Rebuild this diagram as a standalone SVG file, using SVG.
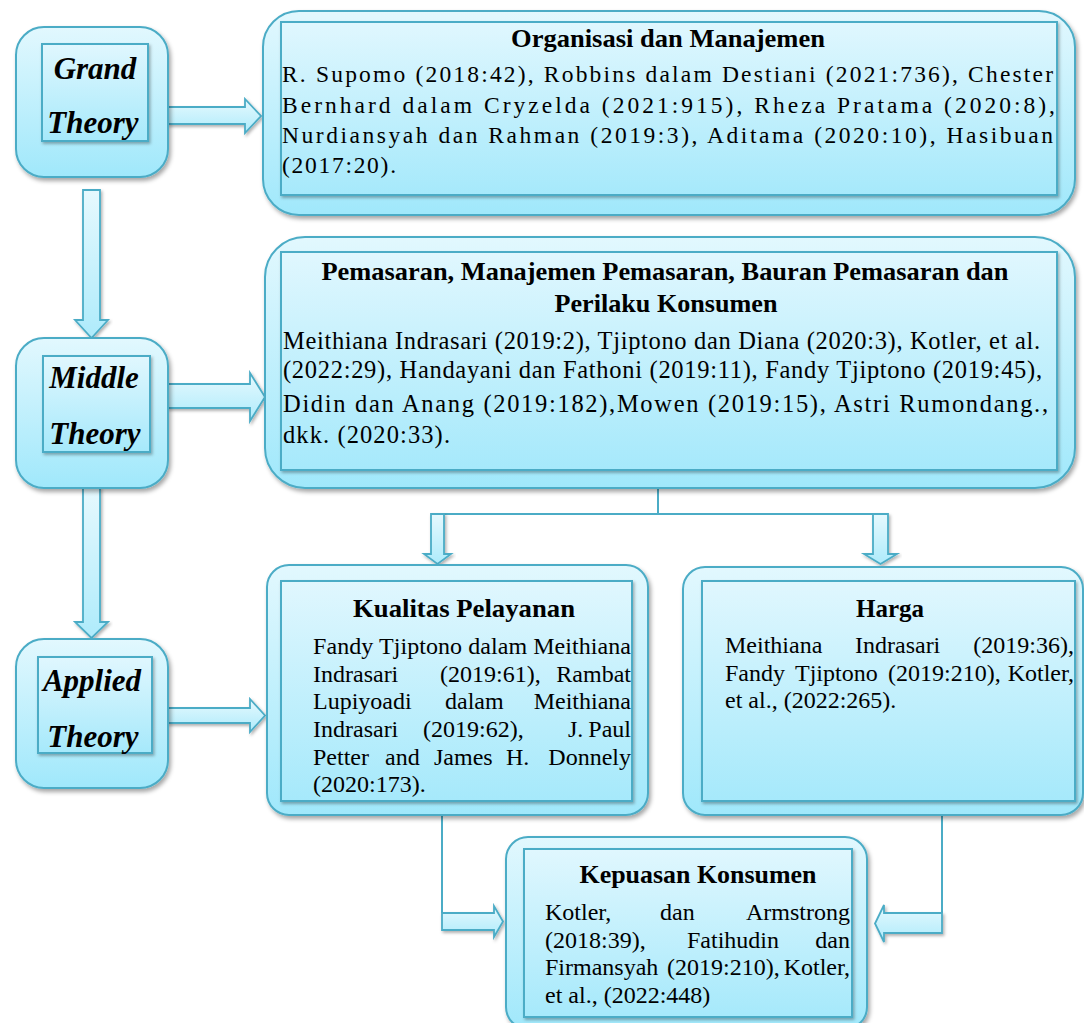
<svg xmlns="http://www.w3.org/2000/svg" width="1084" height="1023" viewBox="0 0 1084 1023">
<defs>
<linearGradient id="gOuter" x1="0" y1="0" x2="0" y2="1">
<stop offset="0" stop-color="#e2f8fe"/>
<stop offset="1" stop-color="#a0e8fb"/>
</linearGradient>
<linearGradient id="gInner" x1="0" y1="0" x2="0" y2="1">
<stop offset="0" stop-color="#e0f7fe"/>
<stop offset="1" stop-color="#a6e9fb"/>
</linearGradient>
<linearGradient id="gArrow" x1="0" y1="0" x2="0" y2="1">
<stop offset="0" stop-color="#e6f9fe"/>
<stop offset="1" stop-color="#aeebfb"/>
</linearGradient>
<filter id="sh" x="-10%" y="-10%" width="125%" height="130%">
<feDropShadow dx="2" dy="3" stdDeviation="2" flood-color="#000" flood-opacity="0.35"/>
</filter>
<filter id="sh2" x="-10%" y="-10%" width="125%" height="130%">
<feDropShadow dx="1.5" dy="2" stdDeviation="1.5" flood-color="#000" flood-opacity="0.3"/>
</filter>
</defs>
<style>
.outer{fill:url(#gOuter);stroke:#4bacc6;stroke-width:2;filter:url(#sh)}
.inner{fill:url(#gInner);stroke:#4bacc6;stroke-width:2;filter:url(#sh2)}
.arr{fill:url(#gArrow);stroke:#4bacc6;stroke-width:1.8;stroke-linejoin:miter;filter:url(#sh2)}
.line{fill:none;stroke:#4bacc6;stroke-width:2}
.lbl{font-family:"Liberation Serif","Times New Roman",serif;font-weight:bold;font-style:italic;font-size:31px;fill:#000;text-anchor:middle}
.ttl{font-family:"Liberation Serif","Times New Roman",serif;font-weight:bold;font-size:25px;fill:#000;text-anchor:middle}
.body{font-family:"Liberation Serif","Times New Roman",serif;font-size:23.5px;fill:#000}
.pb{font-family:"Liberation Serif","Times New Roman",serif;font-size:24.5px;fill:#000}
.b2{font-family:"Liberation Serif","Times New Roman",serif;font-size:24px;fill:#000}
.end{text-anchor:end}
</style>
<rect width="1084" height="1023" fill="#ffffff"/>

<g id="connectors">
<path class="arr" d="M168,107 H245 V99 L261,116 L245,133 V124 H168 Z"/>
<path class="arr" d="M168,384 H250 V373 L265,397 L250,421 V408 H168 Z"/>
<path class="arr" d="M168,708 H250 V699 L265,715.5 L250,732 V723 H168 Z"/>
<path class="arr" d="M83,190 H100 V320 H108 L91.5,338 L75,320 H83 Z"/>
<path class="arr" d="M83,488 H100 V622 H108 L91.5,638 L75,622 H83 Z"/>
<path class="line" d="M658,489 V514 M444,514 H873"/>
<path class="arr" d="M431,514 H444 V554 H451 L437.5,564 L424,554 H431 Z"/>
<path class="arr" d="M873,514 H888 V554 H897 L880.5,564 L864,554 H873 Z"/>
<path class="line" d="M442,816 V913"/>
<path class="arr" d="M442,913 H494 V906 L503,921.5 L494,937 V930 H442 Z"/>
<path class="line" d="M942,816 V913"/>
<path class="arr" d="M942,913 H884 V905 L875,923.5 L884,942 V933 H942 Z"/>
</g>

<g id="grand-theory">
<rect class="outer" x="16" y="27" width="152" height="150" rx="28"/>
<rect class="inner" x="42" y="44" width="106" height="97"/>
<text class="lbl" x="95" y="79">Grand</text>
<text class="lbl" x="93" y="133">Theory</text>
</g>

<g id="middle-theory">
<rect class="outer" x="16" y="338" width="152" height="150" rx="28"/>
<rect class="inner" x="43" y="356" width="107" height="96"/>
<text class="lbl" x="94" y="388">Middle</text>
<text class="lbl" x="95" y="444">Theory</text>
</g>

<g id="applied-theory">
<rect class="outer" x="16" y="639" width="152" height="149" rx="28"/>
<rect class="inner" x="38" y="657" width="114" height="96"/>
<text class="lbl" x="92" y="691">Applied</text>
<text class="lbl" x="93" y="747">Theory</text>
</g>

<g id="organisasi">
<rect class="outer" x="263" y="11" width="812" height="204" rx="36"/>
<rect class="inner" x="281" y="22" width="776" height="173"/>
<text class="ttl" x="668" y="47" textLength="314" lengthAdjust="spacingAndGlyphs">Organisasi dan Manajemen</text>
<text class="body" x="282" y="82" textLength="771" lengthAdjust="spacing">R. Supomo (2018:42), Robbins dalam Destiani (2021:736), Chester</text>
<text class="body" x="282" y="113" textLength="773" lengthAdjust="spacing">Bernhard dalam Cryzelda (2021:915), Rheza Pratama (2020:8),</text>
<text class="body" x="282" y="143" textLength="771" lengthAdjust="spacing">Nurdiansyah dan Rahman (2019:3), Aditama (2020:10), Hasibuan</text>
<text class="body" x="282" y="173" textLength="114" lengthAdjust="spacing">(2017:20).</text>
</g>

<g id="pemasaran">
<rect class="outer" x="265" y="237" width="810" height="251" rx="40"/>
<rect class="inner" x="281" y="252" width="776" height="218"/>
<text class="ttl" x="665" y="280" textLength="687" lengthAdjust="spacingAndGlyphs">Pemasaran, Manajemen Pemasaran, Bauran Pemasaran dan</text>
<text class="ttl" x="666" y="312" textLength="223" lengthAdjust="spacingAndGlyphs">Perilaku Konsumen</text>
<text class="pb" x="283" y="349" textLength="757" lengthAdjust="spacing">Meithiana Indrasari (2019:2), Tjiptono dan Diana (2020:3), Kotler, et al.</text>
<text class="pb" x="283" y="378" textLength="759" lengthAdjust="spacing">(2022:29), Handayani dan Fathoni (2019:11), Fandy Tjiptono (2019:45),</text>
<text class="pb" x="283" y="412" textLength="765" lengthAdjust="spacing">Didin dan Anang (2019:182),Mowen (2019:15), Astri Rumondang.,</text>
<text class="pb" x="283" y="443" textLength="167" lengthAdjust="spacing">dkk. (2020:33).</text>
</g>

<g id="kualitas-pelayanan">
<rect class="outer" x="267" y="565" width="381" height="250" rx="22"/>
<rect class="inner" x="281" y="581" width="351" height="220"/>
<text class="ttl" x="464" y="617" textLength="222" lengthAdjust="spacingAndGlyphs">Kualitas Pelayanan</text>
<text class="b2" x="313" y="654" textLength="318" lengthAdjust="spacing">Fandy Tjiptono dalam Meithiana</text>
<text class="b2" y="681.5"><tspan x="313">Indrasari</tspan><tspan x="440">(2019:61),</tspan></text>
<text class="b2 end" x="631" y="681.5">Rambat</text>
<text class="b2" y="709"><tspan x="313">Lupiyoadi</tspan><tspan x="445">dalam</tspan></text>
<text class="b2 end" x="631" y="709">Meithiana</text>
<text class="b2" y="737"><tspan x="313">Indrasari</tspan><tspan x="423">(2019:62),</tspan><tspan x="568">J.</tspan></text>
<text class="b2 end" x="631" y="737">Paul</text>
<text class="b2" y="764.5"><tspan x="313">Petter</tspan><tspan x="385">and</tspan><tspan x="434">James</tspan><tspan x="506">H.</tspan></text>
<text class="b2 end" x="631" y="764.5">Donnely</text>
<text class="b2" x="313" y="792">(2020:173).</text>
</g>

<g id="harga">
<rect class="outer" x="683" y="567" width="400" height="248" rx="22"/>
<rect class="inner" x="702" y="581" width="373" height="220"/>
<text class="ttl" x="890" y="617">Harga</text>
<text class="b2" y="653"><tspan x="725">Meithiana</tspan><tspan x="855">Indrasari</tspan></text>
<text class="b2 end" x="1074" y="653">(2019:36),</text>
<text class="b2" y="681"><tspan x="725">Fandy</tspan><tspan x="795">Tjiptono</tspan><tspan x="888">(2019:210),</tspan></text>
<text class="b2 end" x="1074" y="681">Kotler,</text>
<text class="b2" x="725" y="708">et al., (2022:265).</text>
</g>

<g id="kepuasan-konsumen">
<rect class="outer" x="506" y="837" width="361" height="192" rx="22"/>
<rect class="inner" x="524" y="849" width="328" height="168"/>
<text class="ttl" x="698" y="883" textLength="237" lengthAdjust="spacingAndGlyphs">Kepuasan Konsumen</text>
<text class="b2" y="920"><tspan x="545">Kotler,</tspan><tspan x="660">dan</tspan></text>
<text class="b2 end" x="850" y="920">Armstrong</text>
<text class="b2" y="947.5"><tspan x="545">(2018:39),</tspan><tspan x="687">Fatihudin</tspan></text>
<text class="b2 end" x="850" y="947.5">dan</text>
<text class="b2" y="975"><tspan x="545">Firmansyah</tspan><tspan x="667">(2019:210),</tspan></text>
<text class="b2 end" x="850" y="975">Kotler,</text>
<text class="b2" x="545" y="1003">et al., (2022:448)</text>
</g>
</svg>
